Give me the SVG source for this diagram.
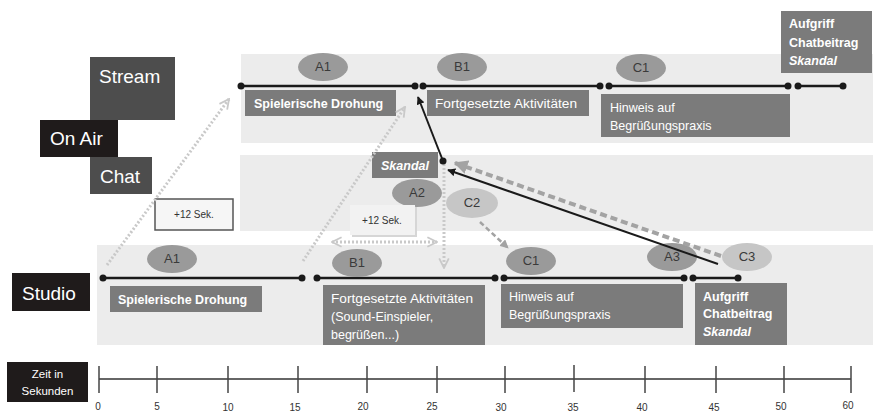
<svg xmlns="http://www.w3.org/2000/svg" width="873" height="412" viewBox="0 0 873 412">
<style>
text{font-family:"Liberation Sans",Arial,sans-serif}
.band{fill:#ececec}
.lab{fill:#4d4d4d}
.dark{fill:#1f1b1b}
.lt{fill:#fff;font-size:19px}
.box{fill:#7b7b7b}
.bt{fill:#fff;font-size:12.5px}
.b{font-weight:bold}
.i{font-style:italic}
.ov{fill:#9a9a9a}
.ovl{fill:#c6c6c6}
.ot{fill:#3a3a3a;font-size:13px;text-anchor:middle}
.tl{stroke:#1a1a1a;stroke-width:2.5}
.dot{fill:#1a1a1a}
.dotted{stroke:#c9c9c9;stroke-width:3;stroke-dasharray:2 2;fill:none}
.tick{stroke:#444;stroke-width:1.5}
.ax{font-size:10px;fill:#333;text-anchor:middle}
</style>
<defs>
<marker id="open" viewBox="0 0 10 10" refX="9" refY="5" markerWidth="4" markerHeight="4" orient="auto-start-reverse" markerUnits="strokeWidth">
<path d="M1,1 L9,5 L1,9" fill="none" stroke="#c9c9c9" stroke-width="1.5"/>
</marker>
<marker id="blk" viewBox="0 0 10 10" refX="9" refY="5" markerWidth="4" markerHeight="4" orient="auto" markerUnits="strokeWidth">
<path d="M0,0 L10,5 L0,10 z" fill="#1a1a1a"/>
</marker>
<marker id="gry" viewBox="0 0 10 10" refX="9" refY="5" markerWidth="3.5" markerHeight="3.5" orient="auto" markerUnits="strokeWidth">
<path d="M0,0 L10,5 L0,10 z" fill="#a3a3a3"/>
</marker>
</defs>

<!-- bands -->
<rect class="band" x="241" y="54" width="632" height="89"/>
<rect class="band" x="240" y="155" width="633" height="76"/>
<rect class="band" x="97" y="245" width="776" height="100"/>

<!-- row labels -->
<g id="stream-label"><rect class="lab" x="90" y="57" width="85" height="63"/><text class="lt" x="99" y="83">Stream</text></g>
<g id="chat-label"><rect class="lab" x="90" y="157" width="62" height="37"/><text class="lt" x="100" y="183">Chat</text></g>
<g id="onair-label"><rect class="dark" x="40" y="120" width="78" height="37"/><text class="lt" x="50" y="145">On Air</text></g>
<g id="studio-label"><rect class="dark" x="12" y="273" width="78" height="38"/><text class="lt" x="22" y="300">Studio</text></g>
<g id="zeit-label"><rect class="dark" x="7" y="362" width="81" height="40"/><text x="47.5" y="378" fill="#fff" font-size="11.5" text-anchor="middle">Zeit in</text><text x="47.5" y="395" fill="#fff" font-size="11.5" text-anchor="middle">Sekunden</text></g>

<!-- stream row -->
<g id="stream-timeline">
<line class="tl" x1="241" y1="86" x2="415" y2="86"/>
<line class="tl" x1="423" y1="86" x2="600" y2="86"/>
<line class="tl" x1="609" y1="86" x2="788" y2="86"/>
<line class="tl" x1="798" y1="86" x2="843" y2="86"/>
<circle class="dot" cx="241" cy="86" r="3.5"/><circle class="dot" cx="415" cy="86" r="3.5"/><circle class="dot" cx="423" cy="86" r="3.5"/>
<circle class="dot" cx="600" cy="86" r="3.5"/><circle class="dot" cx="609" cy="86" r="3.5"/><circle class="dot" cx="788" cy="86" r="3.5"/>
<circle class="dot" cx="798" cy="86" r="3.5"/><circle class="dot" cx="843" cy="86" r="3.5"/>
</g>
<g id="stream-A1"><ellipse class="ov" cx="323" cy="67" rx="25" ry="14"/><text class="ot" x="323" y="71">A1</text></g>
<g id="stream-B1"><ellipse class="ov" cx="462" cy="67" rx="25" ry="14"/><text class="ot" x="462" y="71">B1</text></g>
<g id="stream-C1"><ellipse class="ov" cx="641" cy="68" rx="25" ry="14"/><text class="ot" x="641" y="72">C1</text></g>
<g id="stream-drohung"><rect class="box" x="245" y="90" width="151" height="26"/><text class="bt b" x="254" y="108">Spielerische Drohung</text></g>
<g id="stream-fortgesetzt"><rect class="box" x="427" y="90" width="162" height="26"/><text class="bt" x="435" y="108" textLength="142" lengthAdjust="spacingAndGlyphs">Fortgesetzte Aktivitäten</text></g>
<g id="stream-hinweis"><rect class="box" x="601" y="94" width="189" height="43"/><text class="bt" x="610" y="112">Hinweis auf</text><text class="bt" x="610" y="130">Begrüßungspraxis</text></g>
<g id="stream-aufgriff"><rect class="box" x="781" y="11" width="91" height="62"/><text class="bt b" x="789" y="28">Aufgriff</text><text class="bt b" x="789" y="47">Chatbeitrag</text><text class="bt b i" x="789" y="65">Skandal</text></g>

<!-- chat row -->
<g id="chat-skandal"><rect class="box" x="372" y="152" width="66" height="26"/><text class="bt b i" x="405" y="170" text-anchor="middle" font-size="13">Skandal</text></g>
<g id="chat-A2"><ellipse class="ov" cx="417" cy="193" rx="25" ry="14"/><text class="ot" x="417" y="197">A2</text></g>
<g id="chat-C2"><ellipse class="ovl" cx="472" cy="203" rx="26" ry="15"/><text class="ot" x="472" y="207">C2</text></g>
<g id="sek1"><rect x="155" y="199" width="78" height="31" fill="#f6f6f6" stroke="#555" stroke-width="1.5"/><text x="194" y="218" font-size="10" fill="#333" text-anchor="middle">+12 Sek.</text></g>
<g id="sek2"><rect x="352" y="207" width="65" height="30" fill="#d6d6d6"/><rect x="350" y="205" width="65" height="30" fill="#f2f2f2"/><text x="382" y="224" font-size="10" fill="#333" text-anchor="middle">+12 Sek.</text></g>

<!-- studio row -->
<g id="studio-timeline">
<line class="tl" x1="103" y1="278" x2="302" y2="278"/>
<line class="tl" x1="317" y1="278" x2="495" y2="278"/>
<line class="tl" x1="504" y1="278" x2="684" y2="278"/>
<line class="tl" x1="693" y1="278" x2="738" y2="278"/>
<circle class="dot" cx="103" cy="278" r="3.5"/><circle class="dot" cx="302" cy="278" r="3.5"/><circle class="dot" cx="317" cy="278" r="3.5"/>
<circle class="dot" cx="495" cy="278" r="3.5"/><circle class="dot" cx="504" cy="278" r="3.5"/><circle class="dot" cx="684" cy="278" r="3.5"/>
<circle class="dot" cx="693" cy="278" r="3.5"/><circle class="dot" cx="738" cy="278" r="3.5"/>
</g>
<g id="studio-A1"><ellipse class="ov" cx="172" cy="259" rx="25" ry="14"/><text class="ot" x="172" y="263">A1</text></g>
<g id="studio-B1"><ellipse class="ov" cx="357" cy="263" rx="25" ry="14"/><text class="ot" x="357" y="267">B1</text></g>
<g id="studio-C1"><ellipse class="ov" cx="531" cy="261" rx="25" ry="14"/><text class="ot" x="531" y="265">C1</text></g>
<g id="studio-A3"><ellipse class="ov" cx="672" cy="257" rx="25" ry="14"/><text class="ot" x="672" y="261">A3</text></g>
<g id="studio-C3"><ellipse class="ovl" cx="747" cy="257" rx="25" ry="14"/><text class="ot" x="747" y="261">C3</text></g>
<g id="studio-drohung"><rect class="box" x="110" y="286" width="152" height="26"/><text class="bt b" x="118" y="304">Spielerische Drohung</text></g>
<g id="studio-fortgesetzt"><rect class="box" x="323" y="285" width="162" height="60"/><text class="bt" x="331" y="303" textLength="142" lengthAdjust="spacingAndGlyphs">Fortgesetzte Aktivitäten</text><text class="bt" x="331" y="321">(Sound-Einspieler,</text><text class="bt" x="331" y="339">begrüßen...)</text></g>
<g id="studio-hinweis"><rect class="box" x="501" y="284" width="182" height="44"/><text class="bt" x="509" y="301">Hinweis auf</text><text class="bt" x="509" y="319">Begrüßungspraxis</text></g>
<g id="studio-aufgriff"><rect class="box" x="695" y="283" width="92" height="62"/><text class="bt b" x="703" y="301">Aufgriff</text><text class="bt b" x="703" y="318">Chatbeitrag</text><text class="bt b i" x="703" y="336">Skandal</text></g>

<!-- connectors -->
<g id="connectors">
<line class="dotted" x1="107" y1="265" x2="229" y2="99" marker-end="url(#open)"/>
<line class="dotted" x1="303" y1="261" x2="405" y2="107" marker-end="url(#open)"/>
<line class="dotted" x1="332" y1="242" x2="437" y2="242" marker-start="url(#open)" marker-end="url(#open)"/>
<line class="dotted" x1="444" y1="164" x2="444" y2="268" marker-end="url(#open)"/>
<line x1="480" y1="222" x2="508" y2="248" stroke="#a3a3a3" stroke-width="2.5" stroke-dasharray="5 3" marker-end="url(#gry)"/>
<line x1="721" y1="256" x2="455" y2="163" stroke="#a3a3a3" stroke-width="4" stroke-dasharray="7 4" marker-end="url(#gry)"/>
<line x1="718" y1="264" x2="448" y2="170" stroke="#1a1a1a" stroke-width="2" marker-end="url(#blk)"/>
<line x1="443" y1="161" x2="418" y2="97" stroke="#1a1a1a" stroke-width="2" marker-end="url(#blk)"/>
<circle class="dot" cx="443" cy="161" r="3.5"/>
</g>

<!-- time axis -->
<g id="time-axis">
<line x1="99" y1="379" x2="851" y2="379" stroke="#666" stroke-width="2"/>
<line class="tick" x1="99" y1="366" x2="99" y2="393"/>
<line class="tick" x1="157" y1="366" x2="157" y2="393"/>
<line class="tick" x1="228" y1="366" x2="228" y2="393"/>
<line class="tick" x1="298" y1="366" x2="298" y2="393"/>
<line class="tick" x1="367" y1="366" x2="367" y2="393"/>
<line class="tick" x1="437" y1="366" x2="437" y2="393"/>
<line class="tick" x1="505" y1="366" x2="505" y2="393"/>
<line class="tick" x1="574" y1="365" x2="574" y2="392"/>
<line class="tick" x1="645" y1="366" x2="645" y2="393"/>
<line class="tick" x1="716" y1="366" x2="716" y2="393"/>
<line class="tick" x1="784" y1="366" x2="784" y2="393"/>
<line class="tick" x1="851" y1="366" x2="851" y2="393"/>
<text class="ax" x="98" y="410">0</text>
<text class="ax" x="157" y="410">5</text>
<text class="ax" x="228" y="411">10</text>
<text class="ax" x="295" y="411">15</text>
<text class="ax" x="363" y="410">20</text>
<text class="ax" x="432" y="410">25</text>
<text class="ax" x="501" y="411">30</text>
<text class="ax" x="573" y="411">35</text>
<text class="ax" x="642" y="411">40</text>
<text class="ax" x="714" y="411">45</text>
<text class="ax" x="781" y="410">50</text>
<text class="ax" x="848" y="409">60</text>
</g>
</svg>
